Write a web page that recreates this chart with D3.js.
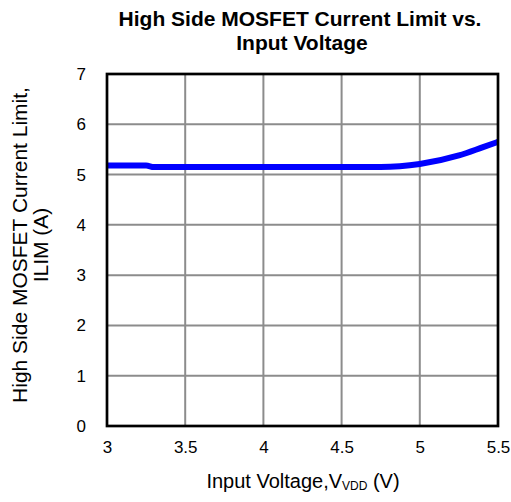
<!DOCTYPE html>
<html>
<head>
<meta charset="utf-8">
<script src="https://cdn.jsdelivr.net/npm/d3@7"></script>
<style>
body { margin: 0; background: #fff; }
text { font-family: Arial, "Liberation Sans", sans-serif; }
</style>
</head>
<body>
<script>
// data
var voltage = [3, 3.1, 3.2, 3.25, 3.3, 3.5, 4, 4.5, 4.75, 5, 5.25, 5.4, 5.5];
var ilim = [5.18, 5.18, 5.18, 5.18, 5.15, 5.15, 5.15, 5.15, 5.15, 5.21, 5.38, 5.54, 5.65];
var xTicks = [3, 3.5, 4, 4.5, 5, 5.5];
var yTicks = [0, 1, 2, 3, 4, 5, 6, 7];

var width = 511, height = 502;
var plotL = 107, plotR = 498, plotT = 74, plotB = 426;

var svg = d3.select('body')
    .append('svg')
    .attr('width', width)
    .attr('height', height);

var xScale = d3.scaleLinear().domain([3, 5.5]).range([plotL, plotR]);
var yScale = d3.scaleLinear().domain([0, 7]).range([plotB, plotT]);

// grid
svg.append('g')
    .selectAll('line')
    .data(xTicks.slice(1, -1))
    .enter().append('line')
    .attr('x1', d => xScale(d)).attr('x2', d => xScale(d))
    .attr('y1', plotT).attr('y2', plotB)
    .attr('stroke', '#8c8c8c').attr('stroke-width', 2);

svg.append('g')
    .selectAll('line')
    .data(yTicks.slice(1, -1))
    .enter().append('line')
    .attr('y1', d => yScale(d)).attr('y2', d => yScale(d))
    .attr('x1', plotL).attr('x2', plotR)
    .attr('stroke', '#8c8c8c').attr('stroke-width', 2);

// line
svg.append('path')
    .datum(voltage.map((v, i) => [v, ilim[i]]))
    .attr('fill', 'none')
    .attr('stroke', '#0000ff')
    .attr('stroke-width', 6)
    .attr('d', d3.line()
        .x(d => xScale(d[0]))
        .y(d => yScale(d[1]))
        .curve(d3.curveMonotoneX));

// frame
svg.append('rect')
    .attr('x', plotL).attr('y', plotT)
    .attr('width', plotR - plotL).attr('height', plotB - plotT)
    .attr('fill', 'none')
    .attr('stroke', 'black').attr('stroke-width', 2.7);

// axes (labels only)
var xAxis = svg.append('g')
    .attr('transform', 'translate(0,' + plotB + ')')
    .call(d3.axisBottom(xScale).tickValues(xTicks).tickSize(0).tickPadding(15).tickFormat(d3.format('')));
var yAxis = svg.append('g')
    .attr('transform', 'translate(' + plotL + ',0)')
    .call(d3.axisLeft(yScale).tickValues(yTicks).tickSize(0).tickPadding(21).tickFormat(d3.format('d')));
[xAxis, yAxis].forEach(function(a) {
    a.select('.domain').remove();
    a.selectAll('text').attr('font-size', 17).attr('fill', 'black')
        .attr('font-family', 'Arial, "Liberation Sans", sans-serif');
});

// title
svg.append('text')
    .attr('x', 300).attr('y', 26)
    .attr('text-anchor', 'middle')
    .attr('font-size', 21).attr('font-weight', 'bold')
    .text('High Side MOSFET Current Limit vs.');
svg.append('text')
    .attr('x', 302).attr('y', 50)
    .attr('text-anchor', 'middle')
    .attr('font-size', 21).attr('font-weight', 'bold')
    .text('Input Voltage');

// y title
var yt = svg.append('text')
    .attr('transform', 'translate(27,245) rotate(-90)')
    .attr('text-anchor', 'middle')
    .attr('font-size', 21);
yt.append('tspan').attr('x', 0).attr('y', 0).text('High Side MOSFET Current Limit,');
yt.append('tspan').attr('x', 0).attr('y', 21).text('ILIM (A)');

// x title
var xt = svg.append('text')
    .attr('x', 303).attr('y', 488)
    .attr('text-anchor', 'middle')
    .attr('font-size', 20);
xt.append('tspan').text('Input Voltage,V');
xt.append('tspan').attr('font-size', 12).attr('dy', 2).text('VDD');
xt.append('tspan').attr('dy', -2).text(' (V)');
</script>
</body>
</html>
